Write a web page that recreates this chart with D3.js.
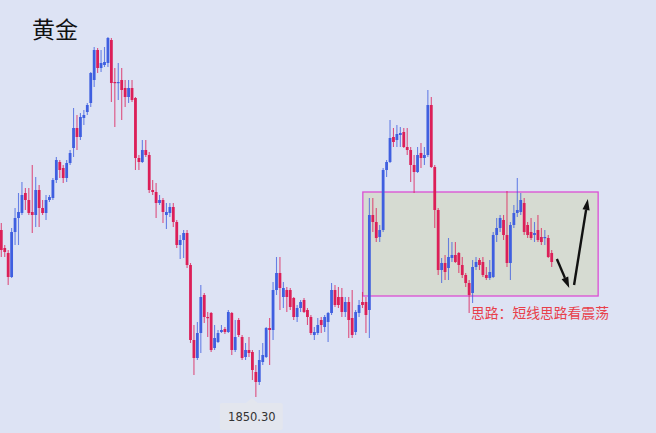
<!DOCTYPE html>
<html><head><meta charset="utf-8">
<script src="https://cdn.jsdelivr.net/npm/d3@7/dist/d3.min.js"></script>
<style>html,body{margin:0;padding:0;background:#dde3f4;}svg{display:block;}</style>
</head><body>
<svg id="chart" width="656" height="433"></svg>
<script>
const title = "黄金";
const note = "思路：短线思路看震荡";
const lowLabel = "1850.30";
const open = [1933.8,1924.8,1922.3,1910.3,1932.8,1939.8,1942.3,1952.3,1948.8,1942.8,1941.3,1953.8,1944.8,1942.3,1948.8,1949.8,1958.8,1967.8,1964.8,1959.8,1967.3,
1974.8,1984.8,1980.3,1989.8,1992.8,1997.3,2008.8,2023.8,2014.8,2016.3,2017.3,2028.8,2007.8,2007.3,2008.8,2004.8,2000.3,2004.8,1999.8,
1969.8,1967.8,1973.8,1971.3,1953.8,1952.8,1947.3,1948.8,1941.3,1942.3,1945.3,1937.8,1926.3,1928.8,
1932.3,1916.3,1878.8,1869.8,1882.3,1901.3,1890.3,1892.3,1874.8,1877.8,1882.8,1884.3,1882.8,1892.3,1873.8,1888.8,1880.3,1870.3,1873.8,1872.8,1862.8,1857.8,1867.8,1870.3,1884.8,1883.8,
1903.8,1912.3,1900.3,1903.8,1903.8,1899.8,1890.3,1894.8,1898.8,1893.8,1890.3,1881.3,1882.3,1888.8,1885.3,1887.8,1892.3,1903.8,1900.3,1900.3,1892.8,1897.8,1889.8,1882.8,1892.3,1897.8,1897.8,
1893.8,1941.3,1937.8,1930.3,1933.8,1963.8,1967.8,1980.3,1978.8,1981.3,1982.8,1975.3,1973.8,1966.3,1962.8,1972.3,1969.8,1971.3,1996.3,1965.3,1943.8,1913.8,1917.3,1914.8,1919.8,1921.3,1922.3,1916.3,1911.3,1907.3,1902.3,1915.3,1918.8,1917.8,1911.3,1909.8,1910.3,1931.3,1934.8,1938.8,1931.3,1917.3,1936.3,1942.3,1942.8,1947.3,1936.3,1932.8,1931.3,1933.8,1930.3,1929.8,1929.8,1922.3];
const high = [1937.3,1926.3,1923.8,1934.8,1944.8,1952.3,1957.8,1954.8,1954.8,1966.3,1960.3,1956.3,1948.8,1951.3,1951.3,1959.8,1970.3,1968.8,1966.3,1968.8,1973.8,
1994.8,1991.3,1992.3,1993.8,1997.3,2012.8,2025.3,2024.8,2023.8,2025.3,2030.3,2029.8,2014.8,2017.3,2014.8,2008.8,2008.8,2008.8,2000.3,
1971.3,1978.8,1978.8,1972.8,1958.8,1957.3,1951.3,1949.8,1947.3,1947.3,1947.3,1938.8,1931.3,1933.8,
1933.8,1917.3,1886.3,1887.8,1906.3,1902.3,1892.8,1892.8,1886.3,1883.8,1886.3,1885.3,1893.8,1892.8,1888.8,1889.8,1881.3,1877.3,1880.3,1873.8,1866.3,1873.8,1877.3,1885.3,1889.8,1907.8,
1920.3,1920.3,1907.8,1905.3,1904.8,1900.3,1896.3,1898.8,1899.8,1894.8,1891.3,1885.3,1889.8,1890.3,1891.3,1892.8,1907.3,1906.3,1905.3,1904.8,1900.3,1900.3,1903.8,1893.8,1898.8,1902.8,1900.3,
1949.8,1949.8,1944.8,1936.3,1964.8,1968.8,1988.8,1984.8,1986.3,1985.3,1984.8,1984.8,1975.3,1971.3,1975.3,1977.3,1975.3,2003.8,2000.3,1966.3,1944.8,1919.8,1921.3,1929.8,1927.8,1927.8,1922.8,1920.3,1912.3,1908.8,1918.8,1920.3,1919.8,1920.3,1915.3,1918.8,1932.8,1939.8,1941.3,1941.3,1953.3,1937.8,1946.3,1959.8,1952.3,1949.8,1937.8,1939.8,1937.8,1941.3,1934.8,1933.8,1931.3,1923.8];
const low = [1920.3,1920.3,1906.3,1909.8,1926.3,1926.3,1941.3,1943.8,1941.3,1932.3,1935.3,1935.3,1941.3,1938.8,1947.8,1948.8,1957.3,1959.8,1957.3,1957.8,1966.3,
1970.3,1973.8,1978.8,1986.3,1991.3,1995.3,2005.3,2012.3,2012.8,2015.3,2015.3,1997.8,1985.3,1998.8,1988.8,1995.3,1997.3,1997.8,1963.8,
1963.8,1967.3,1970.3,1952.3,1951.3,1939.8,1946.3,1937.3,1934.3,1940.3,1935.3,1924.8,1919.3,1919.8,
1914.8,1877.3,1861.3,1868.8,1872.3,1887.3,1880.3,1872.8,1873.8,1877.3,1882.3,1881.8,1882.3,1871.3,1872.8,1880.3,1868.8,1868.8,1870.3,1858.8,1850.3,1856.3,1866.3,1869.8,1866.3,1878.8,
1901.3,1893.8,1894.8,1892.8,1893.8,1888.8,1887.8,1892.8,1892.3,1886.3,1881.3,1878.8,1881.3,1882.3,1882.8,1877.8,1891.3,1895.3,1894.8,1890.3,1890.3,1879.8,1879.8,1881.3,1890.3,1894.8,1882.3,
1879.8,1932.8,1927.8,1927.8,1932.8,1960.3,1967.3,1975.3,1975.3,1975.3,1974.8,1971.3,1957.8,1952.3,1962.3,1964.8,1966.3,1970.3,1964.8,1934.8,1911.3,1907.3,1908.8,1908.8,1917.8,1917.3,1912.3,1909.8,1905.3,1892.3,1897.3,1913.8,1913.8,1910.3,1908.8,1908.8,1909.8,1927.8,1932.8,1928.8,1915.3,1908.8,1934.8,1940.3,1941.3,1931.3,1929.8,1928.8,1927.8,1927.8,1926.3,1926.3,1919.8,1915.3];
const close = [1923.8,1922.8,1910.3,1932.8,1939.8,1942.8,1951.3,1948.8,1942.3,1941.3,1953.8,1944.8,1942.3,1948.8,1950.3,1958.8,1968.8,1963.8,1959.8,1967.3,1972.3,
1984.8,1980.3,1990.3,1991.3,1996.3,2012.3,2023.8,2014.8,2017.3,2017.8,2029.8,2007.3,2007.3,2007.8,2003.8,2000.3,2004.8,1998.8,1969.8,
1967.8,1973.8,1971.3,1953.8,1952.8,1947.3,1948.8,1942.8,1942.8,1945.3,1937.8,1926.3,1928.8,1932.3,
1916.3,1878.8,1869.8,1882.3,1900.3,1890.3,1889.8,1873.8,1879.8,1882.3,1883.8,1882.8,1892.8,1873.8,1880.3,1881.3,1869.8,1873.8,1872.3,1863.8,1857.8,1868.8,1871.3,1884.8,1883.8,1903.8,
1912.3,1904.8,1904.8,1900.3,1895.3,1890.3,1894.8,1897.8,1892.8,1890.3,1882.3,1882.8,1886.3,1886.3,1890.3,1892.3,1903.8,1896.3,1896.3,1892.8,1897.8,1888.8,1881.3,1892.8,1896.3,1896.3,1891.3,
1941.3,1937.8,1929.8,1933.8,1963.8,1967.8,1979.8,1977.8,1981.8,1982.3,1975.3,1973.8,1966.3,1962.8,1971.3,1969.8,1971.3,1996.3,1965.3,1943.8,1913.8,1917.3,1912.8,1920.3,1921.3,1917.8,1916.3,1911.3,1907.3,1901.3,1915.3,1917.8,1916.3,1911.3,1909.8,1912.8,1931.3,1934.8,1939.8,1931.3,1917.3,1936.3,1942.3,1943.8,1948.8,1932.8,1931.3,1929.8,1932.3,1928.8,1927.8,1930.3,1920.3,1917.8];
const candleIndex = d3.range(open.length);
// annotation anchors (candle index units, price units)
const zoneStart = 105.1, zoneEnd = 173.5, zoneTop = 1952.8, zoneBottom = 1900.8;
const arrowDown = [[161.5, 1919.3], [165.1, 1904.8]];
const arrowUp = [[166.5, 1906.3], [170.5, 1949.3]];

const W = 656, H = 433;
const svg = d3.select("#chart");
svg.append("rect").attr("width", W).attr("height", H).attr("fill", "#dde3f4");

const x = d3.scaleLinear().domain([0, open.length - 1]).range([1.3, 551.7]);
const y = d3.scaleLinear().domain([1850.3, 2030.3]).range([397, 37]);

const up = "#3f5fe0", down = "#dc1f58";
const bw = 2.8;

// zone box
svg.append("rect")
  .attr("x", x(zoneStart)).attr("y", y(zoneTop))
  .attr("width", x(zoneEnd) - x(zoneStart)).attr("height", y(zoneBottom) - y(zoneTop))
  .attr("fill", "#d6dbd2").attr("stroke", "#dc4fd4").attr("stroke-width", 1.3);

const g = svg.append("g");
const c = g.selectAll("g.c").data(candleIndex).join("g").attr("class", "c");
c.append("line")
  .attr("x1", i => x(i)).attr("x2", i => x(i))
  .attr("y1", i => y(high[i])).attr("y2", i => y(low[i]))
  .attr("stroke", i => close[i] >= open[i] ? up : down)
  .attr("stroke-opacity", 0.75).attr("stroke-width", 1.1);
c.append("rect")
  .attr("x", i => x(i) - bw / 2)
  .attr("y", i => y(Math.max(open[i], close[i])))
  .attr("width", bw)
  .attr("height", i => Math.max(1.2, Math.abs(y(open[i]) - y(close[i]))))
  .attr("fill", i => close[i] >= open[i] ? up : down);

// arrows
function arrow(pts) {
  const [p0, p1] = pts.map(p => [x(p[0]), y(p[1])]);
  const ang = Math.atan2(p1[1] - p0[1], p1[0] - p0[0]);
  const len = 11, hw = 3.6;
  const bx = p1[0] - len * Math.cos(ang), by = p1[1] - len * Math.sin(ang);
  svg.append("line").attr("x1", p0[0]).attr("y1", p0[1]).attr("x2", bx).attr("y2", by)
    .attr("stroke", "#111").attr("stroke-width", 2.4);
  const nx = -Math.sin(ang), ny = Math.cos(ang);
  svg.append("path")
    .attr("d", `M${p1[0]},${p1[1]}L${bx + nx * hw},${by + ny * hw}L${bx - nx * hw},${by - ny * hw}Z`)
    .attr("fill", "#111");
}
arrow(arrowDown);
arrow(arrowUp);

// note text
svg.append("text").attr("x", 471).attr("y", 317.5)
  .attr("font-family", "'Noto Sans CJK SC', sans-serif").attr("font-size", 13.8)
  .attr("fill", "#e8404a").text(note);

// title
svg.append("text").attr("x", 32).attr("y", 38)
  .attr("font-family", "'Noto Sans CJK SC', sans-serif").attr("font-size", 23)
  .attr("fill", "#111").text(title);

// low label
const lowIdx = low.indexOf(d3.min(low));
const lx = x(lowIdx) - 4;
const ly = y(low[lowIdx]);
svg.append("path")
  .attr("d", `M${lx - 6},${ly + 6}L${lx},${ly + 1}L${lx + 6},${ly + 6}Z`)
  .attr("fill", "#e3e6ee");
svg.append("rect").attr("x", lx - 32).attr("y", ly + 6).attr("width", 63).attr("height", 27)
  .attr("rx", 2).attr("fill", "#e3e6ee");
svg.append("text").attr("x", lx).attr("y", ly + 24).attr("text-anchor", "middle")
  .attr("font-family", "'DejaVu Sans', sans-serif").attr("font-size", 11.5)
  .attr("fill", "#333").text(lowLabel);
</script>
</body></html>
